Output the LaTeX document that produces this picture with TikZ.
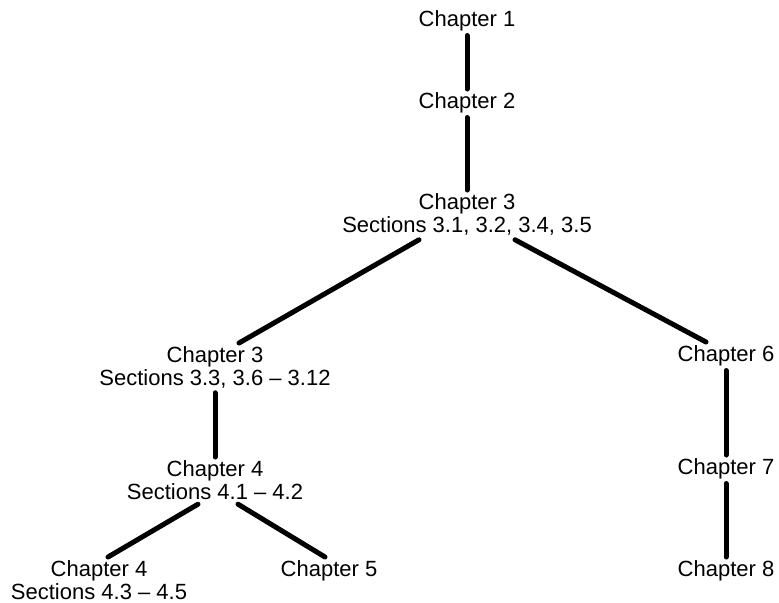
\documentclass[tikz,border=0pt]{standalone}
\usepackage{fontspec}
\setmainfont{Liberation Sans}
\tikzstyle{chap}=[anchor=north,align=center,inner sep=0mm,outer sep=2pt,font=\fontsize{11}{11.5}\selectfont]
\tikzstyle{link}=[line width=2.5pt,line cap=round]
\begin{document}
\begin{tikzpicture}[x=0.5pt,y=-0.5pt]
          \useasboundingbox (0,0) rectangle (779,602);
          \node[chap] at (467,7) (c1) {Chapter 1};
          \node[chap] at (467,89) (c2) {Chapter 2};
          \node[chap] at (467,190) (c3) {Chapter 3\\Sections 3.1, 3.2, 3.4, 3.5};
          \node[chap] at (215,343) (c3b) {Chapter 3\\Sections 3.3, 3.6 – 3.12};
          \node[chap] at (726,342) (c6) {Chapter 6};
          \node[chap] at (215,457) (c4) {Chapter 4\\Sections 4.1 – 4.2};
          \node[chap] at (726,455) (c7) {Chapter 7};
          \node[chap] at (99,557) (c4b) {Chapter 4\\Sections 4.3 – 4.5};
          \node[chap] at (329,557) (c5) {Chapter 5};
          \node[chap] at (726,557) (c8) {Chapter 8};
          \draw[link] (c1)--(c2);
          \draw[link] (c2)--(c3);
          \draw[link] ([xshift=-24pt]c3.south)--([xshift=12pt]c3b.north);
          \draw[link] ([xshift=24pt]c3.south)--([xshift=-10pt]c6.north);
          \draw[link] (c3b)--(c4);
          \draw[link] (c6)--(c7);
          \draw[link] (c7)--(c8);
          \draw[link] ([xshift=-8.5pt]c4.south)--([xshift=4.5pt]c4b.north);
          \draw[link] ([xshift=11.5pt]c4.south)--([xshift=-2pt]c5.north);
        \end{tikzpicture}
\end{document}
